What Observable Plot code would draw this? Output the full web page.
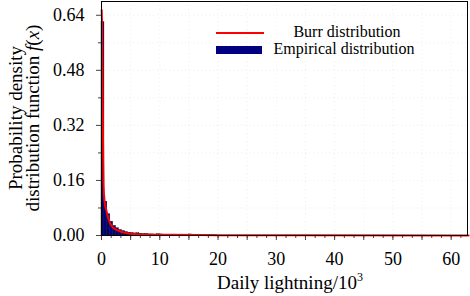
<!DOCTYPE html>
<html>
<head>
<meta charset="utf-8">
<script src="https://cdn.jsdelivr.net/npm/d3@7"></script>
<script src="https://cdn.jsdelivr.net/npm/@observablehq/plot@0.6"></script>
<style>
  html, body { margin: 0; padding: 0; background: #fff; }
  #chart { width: 470px; height: 296px; }
</style>
</head>
<body>
<div id="chart"></div>
<script>
// Empirical histogram: bin edges (10^3) and density values
const binStart = [0, 0.5, 1, 1.5, 2, 2.5, 3, 3.5, 4, 4.5, 5, 5.5, 6, 6.5, 7, 7.5, 8, 8.5, 9, 9.5, 10, 10.5, 11, 11.5, 12, 12.5, 13, 13.5, 14, 14.5, 15, 15.5, 16, 16.5, 17, 17.5, 18, 18.5, 19, 19.5];
const binEnd   = [0.5, 1, 1.5, 2, 2.5, 3, 3.5, 4, 4.5, 5, 5.5, 6, 6.5, 7, 7.5, 8, 8.5, 9, 9.5, 10, 10.5, 11, 11.5, 12, 12.5, 13, 13.5, 14, 14.5, 15, 15.5, 16, 16.5, 17, 17.5, 18, 18.5, 19, 19.5, 20];
const empirical = [0.62, 0.098, 0.062, 0.040, 0.028, 0.021, 0.016, 0.013, 0.010, 0.008, 0.007, 0.006, 0.0065, 0.005, 0.004, 0.0045, 0.003, 0.003, 0.0025, 0.0035, 0.003, 0.002, 0.002, 0.0018, 0.0015, 0.0015, 0.0012, 0.0012, 0.0015, 0.002, 0.003, 0.002, 0.0012, 0.001, 0.0008, 0.0008, 0.0006, 0.0006, 0.0005, 0.0005];

// Fitted Burr density curve
const burrX = [0.03, 0.1, 0.15, 0.2, 0.25, 0.3, 0.35, 0.45, 0.6, 0.85, 1.2, 1.7, 2.3, 2.9, 3.7, 4.6, 6, 8, 12, 20, 35, 63];
const burrY = [0.655, 0.60, 0.50, 0.40, 0.30, 0.21, 0.15, 0.115, 0.09, 0.072, 0.048, 0.029, 0.019, 0.0145, 0.009, 0.006, 0.004, 0.003, 0.002, 0.001, 0.0005, 0.0002];

// Axis ticks
const xTickLabels = [0, 10, 20, 30, 40, 50, 60];
const xMidTicks = [5, 15, 25, 35, 45, 55];
const yTickLabels = [0, 0.16, 0.32, 0.48, 0.64];
const yMinorTicks = [0.08, 0.24, 0.40, 0.56];

const bins = binStart.map((s, i) => ({x1: s, x2: binEnd[i], y: empirical[i]}));
const curve = burrX.map((x, i) => ({x, y: burrY[i]}));
const xMinor = d3.range(0, 63, 5 / 3);

const font = "Liberation Serif, DejaVu Serif Condensed, serif";

const plot = Plot.plot({
  width: 470,
  height: 296,
  marginLeft: 101,
  marginRight: 3,
  marginTop: 1,
  marginBottom: 61,
  style: {fontFamily: font, background: "#fff", color: "#000"},
  x: {domain: [0, 62.8]},
  y: {domain: [0, 0.68]},
  marks: [
    Plot.gridY(yTickLabels.concat(yMinorTicks), {stroke: "#bbb", strokeOpacity: 0.25, strokeDasharray: "1,3"}),
    Plot.gridX(xTickLabels.concat(xMidTicks), {stroke: "#bbb", strokeOpacity: 0.25, strokeDasharray: "1,3"}),
    Plot.rect(bins, {x1: "x1", x2: "x2", y1: 0, y2: "y", fill: "#000080", stroke: "#111", strokeWidth: 0.4}),
    Plot.line(curve, {x: "x", y: "y", stroke: "#ff0000", strokeWidth: 2, curve: "monotone-x"}),
    Plot.axisX({ticks: xMinor, tickSize: 3, text: null, label: null, stroke: "#444"}),
    Plot.axisX({ticks: xMidTicks, tickSize: 5, text: null, label: null, stroke: "#444"}),
    Plot.axisX({ticks: xTickLabels, tickSize: 5, tickPadding: 12, fontSize: 18, label: null, stroke: "#444", tickFormat: d => String(d)}),
    Plot.axisY({ticks: yMinorTicks, tickSize: 3, text: null, label: null, stroke: "#444"}),
    Plot.axisY({ticks: yTickLabels, tickSize: 5, tickPadding: 12, fontSize: 18, label: null, stroke: "#444", tickFormat: d3.format(".2f")}),
    Plot.frame({stroke: "#000", strokeWidth: 1})
  ]
});

document.getElementById("chart").appendChild(plot);

const svg = d3.select(plot);
// x label
const xl = svg.append("text")
  .attr("x", 290).attr("y", 289)
  .attr("text-anchor", "middle")
  .style("font-family", font).attr("font-size", 19).attr("fill", "#000");
xl.append("tspan").text("Daily lightning/10");
xl.append("tspan").attr("dy", -8).attr("font-size", 12).text("3");

// y label, two lines
svg.append("text")
  .attr("transform", "translate(22,118) rotate(-90)")
  .attr("text-anchor", "middle")
  .style("font-family", font).attr("font-size", 19).attr("fill", "#000")
  .text("Probability density");
const yl2 = svg.append("text")
  .attr("transform", "translate(39,118) rotate(-90)")
  .attr("text-anchor", "middle")
  .style("font-family", font).attr("font-size", 19).attr("fill", "#000");
yl2.append("tspan").text("distribution function ");
yl2.append("tspan").attr("font-style", "italic").text("f");
yl2.append("tspan").text("(");
yl2.append("tspan").attr("font-style", "italic").text("x");
yl2.append("tspan").text(")");

// legend
const lg = svg.append("g");
lg.append("line").attr("x1", 216).attr("x2", 264).attr("y1", 33).attr("y2", 33)
  .attr("stroke", "#ff0000").attr("stroke-width", 2);
lg.append("rect").attr("x", 216).attr("y", 46).attr("width", 46).attr("height", 8)
  .attr("fill", "#000080");
lg.append("text").attr("x", 347).attr("y", 37).attr("text-anchor", "middle")
  .style("font-family", font).attr("font-size", 16).attr("fill", "#000")
  .text("Burr distribution");
lg.append("text").attr("x", 344).attr("y", 54).attr("text-anchor", "middle")
  .style("font-family", font).attr("font-size", 16).attr("fill", "#000")
  .text("Empirical distribution");
</script>
</body>
</html>
